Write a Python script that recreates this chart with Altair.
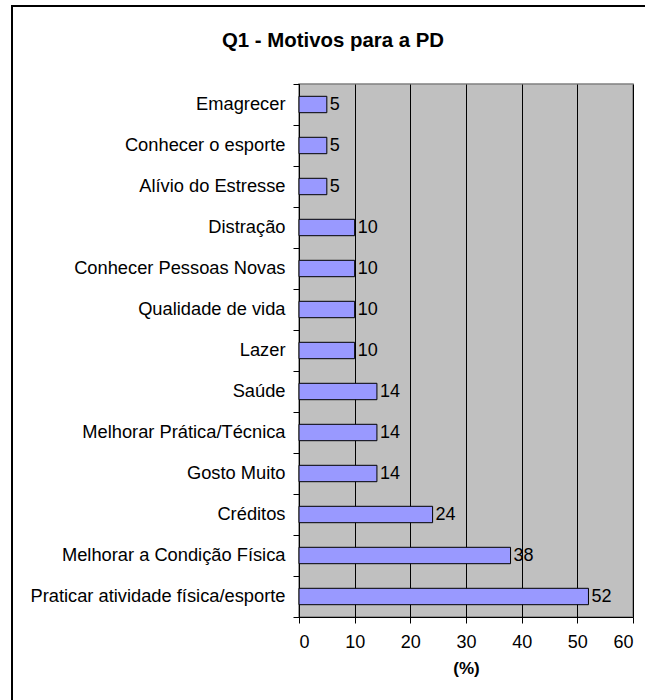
import altair as alt
import pandas as pd

# Reasons for practising the sport, share of answers (%)
motivos = [
    "Emagrecer",
    "Conhecer o esporte",
    "Alívio do Estresse",
    "Distração",
    "Conhecer Pessoas Novas",
    "Qualidade de vida",
    "Lazer",
    "Saúde",
    "Melhorar Prática/Técnica",
    "Gosto Muito",
    "Créditos",
    "Melhorar a Condição Física",
    "Praticar atividade física/esporte",
]
percentuais = [5, 5, 5, 10, 10, 10, 10, 14, 14, 14, 24, 38, 52]
x_ticks = [0, 10, 20, 30, 40, 50, 60]

df = pd.DataFrame({"motivo": motivos, "pct": percentuais})

FONT = "Liberation Sans"

y_enc = alt.Y(
    "motivo:N",
    sort=motivos,
    title=None,
    scale=alt.Scale(paddingInner=0, paddingOuter=0),
    axis=alt.Axis(
        tickBand="extent",
        tickSize=6,
        tickColor="black",
        domainColor="black",
        labelFont=FONT,
        labelFontSize=18.3,
        labelColor="black",
        labelPadding=8,
        labelLimit=400,
        grid=False,
    ),
)

x_enc = alt.X(
    "pct:Q",
    title="(%)",
    scale=alt.Scale(domain=[0, 60], nice=False),
    axis=alt.Axis(
        values=x_ticks,
        tickSize=6,
        tickColor="black",
        domainColor="black",
        gridColor="black",
        gridOpacity=1,
        labelFont=FONT,
        labelFontSize=18,
        labelColor="black",
        labelPadding=10,
        titleFont=FONT,
        titleFontSize=17,
        titleFontWeight="bold",
        titleColor="black",
        titlePadding=9,
    ),
)

bars = alt.Chart(df).mark_bar(
    color="#9999FF",
    stroke="black",
    strokeWidth=1,
    height=alt.RelativeBandSize(0.4),
).encode(x=x_enc, y=y_enc)

labels = alt.Chart(df).mark_text(
    align="left",
    baseline="middle",
    dx=3,
    font=FONT,
    fontSize=18,
    color="black",
).encode(x="pct:Q", y=alt.Y("motivo:N", sort=motivos), text="pct:Q")

# Frame around the whole chart area
frame = alt.Chart(df).mark_rect(
    fill="transparent",
    stroke="black",
    strokeWidth=2,
).encode(
    x=alt.value(-287),
    x2=alt.value(700),
    y=alt.value(-78),
    y2=alt.value(800),
)

chart = (
    alt.layer(bars, labels, frame)
    .properties(
        width=334,
        height=533,
        padding={"left": 299, "top": 84, "right": 12, "bottom": 83},
        autosize=alt.AutoSizeParams(type="none"),
        background="white",
        title=alt.TitleParams(
            "Q1 - Motivos para a PD",
            font=FONT,
            fontSize=20.4,
            fontWeight="bold",
            color="black",
            anchor="middle",
            dx=-133,
            offset=-46,
        ),
    )
    .configure_view(fill="#C0C0C0", stroke="#808080", strokeWidth=1.5)
)

chart.save("out.html", embed_options={"renderer": "svg", "actions": False})
